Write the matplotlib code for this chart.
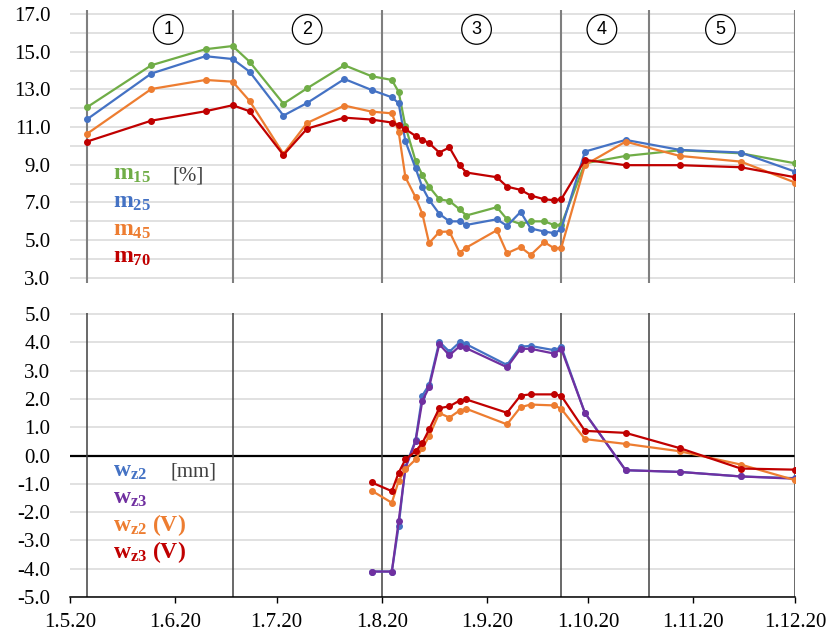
import matplotlib
matplotlib.use('Agg')
import numpy as np
import pandas as pd
import matplotlib.pyplot as plt
import matplotlib.dates as mdates
from matplotlib.ticker import FuncFormatter

plt.rcParams['font.family'] = 'Liberation Serif'
plt.rcParams['mathtext.fontset'] = 'custom'
plt.rcParams['mathtext.rm'] = 'Liberation Serif'
plt.rcParams['mathtext.bf'] = 'Liberation Serif:bold'
plt.rcParams['mathtext.it'] = 'Liberation Serif:italic'

# ── Data ────────────────────────────────────────────────────────────────────
m_dates = pd.to_datetime([
    '2020-05-06', '2020-05-25', '2020-06-10', '2020-06-18', '2020-06-23',
    '2020-07-03', '2020-07-10', '2020-07-21', '2020-07-29', '2020-08-04',
    '2020-08-06', '2020-08-08', '2020-08-11', '2020-08-13', '2020-08-15',
    '2020-08-18', '2020-08-21', '2020-08-24', '2020-08-26', '2020-09-04',
    '2020-09-07', '2020-09-11', '2020-09-14', '2020-09-18', '2020-09-21',
    '2020-09-23', '2020-09-30', '2020-10-12', '2020-10-28', '2020-11-15',
    '2020-12-01'])
m15 = [12.05, 14.28, 15.13, 15.30, 14.47, 12.24, 13.06, 14.28, 13.70, 13.50,
       12.87, 11.05, 9.21, 8.46, 7.84, 7.17, 7.08, 6.64, 6.31, 6.75,
       6.11, 5.86, 6.00, 6.00, 5.80, 5.81, 9.08, 9.47, 9.77, 9.61, 9.08]
m25 = [11.41, 13.84, 14.76, 14.61, 13.94, 11.61, 12.28, 13.55, 12.97, 12.58,
       12.27, 10.25, 8.82, 7.81, 7.14, 6.40, 6.00, 6.00, 5.81, 6.11,
       5.76, 6.50, 5.62, 5.46, 5.37, 5.58, 9.70, 10.32, 9.79, 9.65, 8.64]
m45 = [10.64, 13.02, 13.50, 13.41, 12.39, 9.58, 11.22, 12.14, 11.82, 11.73,
       10.76, 8.34, 7.28, 6.40, 4.84, 5.44, 5.46, 4.34, 4.61, 5.53,
       4.31, 4.63, 4.22, 4.90, 4.56, 4.59, 8.99, 10.23, 9.47, 9.17, 8.06]
m70 = [10.23, 11.34, 11.84, 12.16, 11.84, 9.52, 10.92, 11.50, 11.40, 11.24,
       11.10, 10.89, 10.53, 10.33, 10.15, 9.65, 9.92, 8.98, 8.59, 8.34,
       7.84, 7.67, 7.37, 7.17, 7.12, 7.17, 9.26, 8.98, 8.98, 8.87, 8.34]

w_dates = pd.to_datetime([
    '2020-07-29', '2020-08-04', '2020-08-06', '2020-08-08', '2020-08-11',
    '2020-08-13', '2020-08-15', '2020-08-18', '2020-08-21', '2020-08-24',
    '2020-08-26', '2020-09-07', '2020-09-11', '2020-09-14', '2020-09-21',
    '2020-09-23', '2020-09-30', '2020-10-12', '2020-10-28', '2020-11-15',
    '2020-12-01'])
wz2 = [-4.10, -4.10, -2.50, -0.40, 0.54, 2.12, 2.50, 4.02, 3.67, 4.00,
       3.93, 3.20, 3.85, 3.87, 3.72, 3.84, 1.50, -0.52, -0.58, -0.74, -0.80]
wz3 = [-4.10, -4.10, -2.33, -0.45, 0.50, 1.93, 2.41, 3.93, 3.54, 3.86,
       3.79, 3.12, 3.77, 3.77, 3.60, 3.77, 1.50, -0.52, -0.58, -0.74, -0.82]
wz2_v = [-1.24, -1.67, -0.90, -0.49, -0.14, 0.25, 0.68, 1.50, 1.34, 1.59,
         1.65, 1.10, 1.71, 1.80, 1.77, 1.65, 0.58, 0.41, 0.15, -0.32, -0.87]
wz3_v = [-0.95, -1.26, -0.61, -0.14, 0.15, 0.44, 0.92, 1.67, 1.74, 1.94,
         1.98, 1.51, 2.12, 2.16, 2.16, 2.11, 0.87, 0.80, 0.26, -0.46, -0.50]

zone_edges = pd.to_datetime(['2020-05-06', '2020-06-18', '2020-08-01',
                             '2020-09-23', '2020-10-19', '2020-12-01'])
zone_labels = ['1', '2', '3', '4', '5']
zone_label_dates = pd.to_datetime(['2020-05-30', '2020-07-10', '2020-08-29',
                                   '2020-10-05', '2020-11-09'])

GREEN, BLUE, ORANGE, RED, PURPLE = '#70AD47', '#4472C4', '#ED7D31', '#C00000', '#7030A0'
GRID = '#D9D9D9'

# ── Figure layout (pixel based) ────────────────────────────────────────────
W, H = 831, 633
fig = plt.figure(figsize=(W / 100, H / 100), dpi=100)


def px_axes(x0, y0, x1, y1):
    return fig.add_axes([x0 / W, 1 - y1 / H, (x1 - x0) / W, (y1 - y0) / H])


ax_m = px_axes(70, 10.2, 795, 283)
ax_w = px_axes(70, 312.6, 795, 597)

xlim = (pd.Timestamp('2020-05-01'), pd.Timestamp('2020-12-01'))

for ax in (ax_m, ax_w):
    ax.set_xlim(*xlim)
    for s in ax.spines.values():
        s.set_visible(False)
    ax.set_axisbelow(True)
    ax.grid(axis='y', which='both', color=GRID, lw=1.1)
    ax.grid(axis='x', visible=False)
    ax.tick_params(axis='y', which='both', length=0, pad=14, labelsize=15)
    ax.xaxis.set_major_locator(mdates.MonthLocator())

# ── Top panel: moisture ────────────────────────────────────────────────────
ax_m.set_ylim(2.73, 17.2)
ax_m.set_yticks(np.arange(3, 18, 2))
ax_m.set_yticks(np.arange(3, 18, 1), minor=True)
ax_m.yaxis.set_major_formatter(FuncFormatter(lambda v, p: f'{v:.1f}'))
ax_m.tick_params(axis='x', bottom=False, labelbottom=False)

for d in zone_edges:
    ax_m.axvline(d, color='#7F7F7F', lw=1.5, zorder=2)

for vals, c in [(m15, GREEN), (m25, BLUE), (m45, ORANGE), (m70, RED)]:
    ax_m.plot(m_dates, vals, color=c, lw=1.6, marker='o', ms=4, zorder=3)

for d, t in zip(zone_label_dates, zone_labels):
    ax_m.text(d, 16.18, t, ha='center', va='center', fontsize=13,
              family='Liberation Sans', zorder=4,
              bbox=dict(boxstyle='circle,pad=0.35', fc='white', ec='black', lw=0.9))

# ── Bottom panel: displacement ─────────────────────────────────────────────
ax_w.set_ylim(-5, 5.05)
ax_w.set_yticks(np.arange(-5, 6, 1))
ax_w.yaxis.set_major_formatter(FuncFormatter(lambda v, p: f'{v:.1f}'))
ax_w.spines['bottom'].set_visible(True)
ax_w.spines['bottom'].set_color('black')
ax_w.spines['bottom'].set_linewidth(1.1)
ax_w.xaxis.set_major_formatter(FuncFormatter(
    lambda v, p: (lambda d: f'{d.day}.{d.month}.{d.year % 100}')(mdates.num2date(v))))
ax_w.tick_params(axis='x', direction='out', length=4.5, width=1, pad=7, labelsize=15)

ax_w.axhline(0, color='black', lw=1.6, zorder=2)
for d in zone_edges:
    ax_w.axvline(d, color='#404040', lw=1.1, zorder=2)

for vals, c in [(wz2, BLUE), (wz3, PURPLE), (wz2_v, ORANGE), (wz3_v, RED)]:
    ax_w.plot(w_dates, vals, color=c, lw=1.6, marker='o', ms=4, zorder=3)

# ── Series labels ──────────────────────────────────────────────────────────
lab_kw = dict(fontsize=17, ha='left', va='baseline')
m_labels = [(r'$\mathbf{m}_\mathbf{15}$', GREEN), (r'$\mathbf{m}_\mathbf{25}$', BLUE),
            (r'$\mathbf{m}_\mathbf{45}$', ORANGE), (r'$\mathbf{m}_\mathbf{70}$', RED)]
for i, (t, c) in enumerate(m_labels):
    fig.text(113 / W, 1 - (180 + 27.7 * i) / H, t, color=c, **lab_kw)
fig.text(172 / W, 1 - 180 / H, '[%]', color='#404040', fontsize=15, ha='left', va='baseline')

w_labels = [(r'$\mathbf{w}_\mathbf{z2}$', BLUE), (r'$\mathbf{w}_\mathbf{z3}$', PURPLE),
            (r'$\mathbf{w}_\mathbf{z2}\ \mathbf{(V)}$', ORANGE),
            (r'$\mathbf{w}_\mathbf{z3}\ \mathbf{(V)}$', RED)]
for i, (t, c) in enumerate(w_labels):
    fig.text(113 / W, 1 - (476.7 + 27.2 * i) / H, t, color=c, **lab_kw)
fig.text(170 / W, 1 - 476 / H, '[mm]', color='#404040', fontsize=15, ha='left', va='baseline')

fig.savefig('out.png', dpi=100)
print('Saved: out.png')
